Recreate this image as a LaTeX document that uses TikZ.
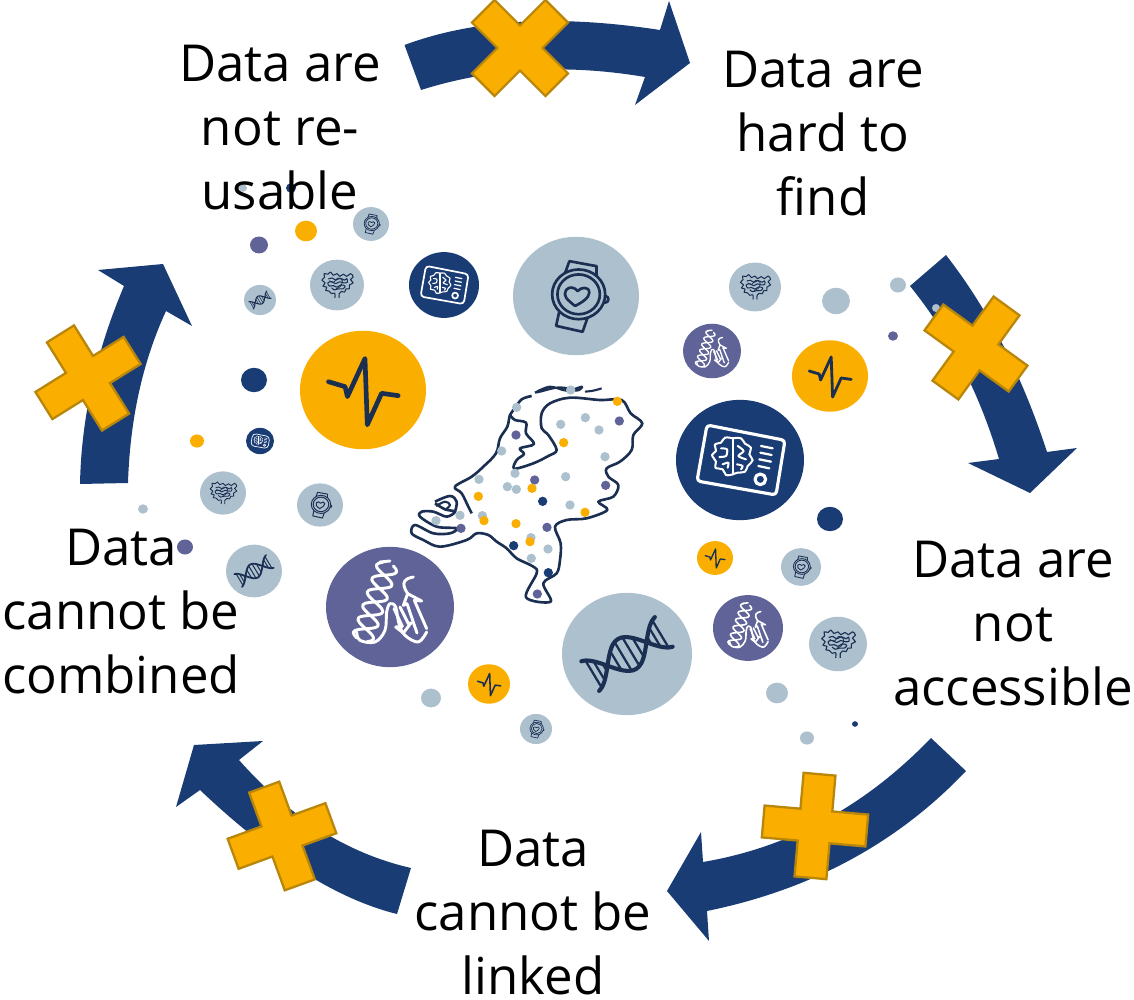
\documentclass[tikz,border=0pt]{standalone}
\usepackage{fontspec}
\setmainfont[Ligatures=NoCommon]{Open Sans}
\usepackage{tikz}
\definecolor{navy}{HTML}{1A3C75}
\definecolor{ink}{HTML}{1B2F52}
\definecolor{bgrey}{HTML}{ADC0CE}
\definecolor{bpurple}{HTML}{5F6397}
\definecolor{byellow}{HTML}{F9AE00}
\definecolor{bedge}{HTML}{B8860B}

\newcommand{\xmark}[3]{\draw[xshape,shift={(#1,#2)},rotate=#3] (-52,-16)--(-16,-16)--(-16,-52)--(16,-52)--(16,-16)--(52,-16)--(52,16)--(16,16)--(16,52)--(-16,52)--(-16,16)--(-52,16)--cycle;}
\newcommand{\pulsebub}[3]{
	\fill[byellow] (#1,#2) circle[x radius=#3,y radius=.94*#3];
	\begin{scope}[shift={(#1,#2)},scale=#3/190,shift={(-519,-660)}]
	\draw[ink,line width=#3*.042pt,line cap=round,line join=round] (415,635)--(465,650)--(472,680)--(525,565)--(532,765)--(575,670)--(625,677);
	\end{scope}
}
\newcommand{\watchbub}[3]{
	\fill[bgrey] (#1,#2) circle[x radius=#3,y radius=.94*#3];
	\begin{scope}[shift={(#1,#2)},scale=#3/190,shift={(-200,-185)},ink,line width=#3*.024pt,line join=round]
	\draw (160,135)--(180,80)--(262,95)--(262,135);
	\draw (150,230)--(140,275)--(220,293)--(240,235);
	\draw (288,195) circle (10);
	\draw[fill=bgrey] (208,180) circle[x radius=80,y radius=75];
	\draw (208,180) circle[x radius=64,y radius=60];
	\draw (197,215) .. controls (172,195) and (160,185) .. (170,167) .. controls (180,155) and (195,158) .. (205,170) .. controls (215,158) and (240,155) .. (240,175) .. controls (240,190) and (218,205) .. cycle;
	\end{scope}
}
\newcommand{\dnabub}[3]{
	\fill[bgrey] (#1,#2) circle[x radius=#3,y radius=.94*#3];
	\begin{scope}[shift={(#1,#2)},scale=#3,rotate=31,ink]
	\draw[line width=#3*.036pt,line cap=round] plot[smooth,domain=-.66:.66,samples=25] (\x,{.27*cos(180*\x/.7)});
	\draw[line width=#3*.036pt,line cap=round] plot[smooth,domain=-.66:.66,samples=25] (\x,{-.27*cos(180*\x/.7)});
	\foreach \t in {-.6,-.5,-.4,-.2,-.07,.07,.2,.4,.5,.6}
		\draw[line width=#3*.02pt] (\t,{.27*cos(180*\t/.7)}) -- (\t,{-.27*cos(180*\t/.7)});
	\end{scope}
}
\newcommand{\gutbub}[3]{
	\fill[bgrey] (#1,#2) circle[x radius=#3,y radius=.94*#3];
	\begin{scope}[shift={(#1,#2)},scale=#3,ink,line width=#3*.022pt,line join=round]
	\draw plot[smooth,tension=.7] coordinates {(-.08,.48)(-.08,.3)(-.2,.32)(-.3,.22)(-.42,.2)(-.38,.08)(-.52,.04)(-.44,-.08)(-.56,-.18)(-.46,-.28)(-.48,-.42)(-.34,-.4)(-.24,-.48)(-.14,-.36)(0,-.42)(.1,-.32)(.24,-.4)(.36,-.32)(.5,-.42)(.6,-.3)(.5,-.2)(.6,-.08)(.46,0)(.46,.14)(.34,.14)(.28,.26)(.16,.24)(.08,.32)(.08,.48)};
	\draw plot[smooth,tension=.7] coordinates {(-.32,-.22)(-.18,-.26)(-.04,-.18)(.12,-.25)(.28,-.18)(.36,-.24)(.38,-.1)(.24,-.08)(.1,-.12)(-.05,-.05)(-.2,-.12)(-.34,-.08)(-.28,.04)(-.14,.02)(0,.08)(.14,0)(.3,.04)(.22,.14)(.06,.14)(-.1,.18)(-.2,.1)};
	\draw[line width=#3*.016pt] plot[smooth,tension=.7] coordinates {(-.28,-.16)(-.12,-.1)(.02,-.26)(.2,-.16)(.12,.06)(-.04,.14)};
	\end{scope}
}
\newcommand{\brainbub}[3]{
	\fill[navy] (#1,#2) circle[x radius=#3,y radius=.94*#3];
	\begin{scope}[shift={(#1,#2)},scale=#3/192,shift={(-217,-627)},white,line width=#3*.028pt,line join=round,line cap=round]
	\draw[rounded corners=2] (118,522)--(352,568)--(325,732)--(88,690)--cycle;
	\draw[line width=#3*.02pt] (280,585)--(315,592) (278,605)--(312,612) (275,625)--(310,632) (272,645)--(305,652);
	\draw (278,685) circle (16);
	\begin{scope}[line width=#3*.018pt]
	\draw plot[smooth,tension=.7] coordinates {(195,562)(172,560)(160,575)(142,580)(145,600)(133,612)(145,632)(143,650)(165,655)(175,672)(195,670)};
	\draw plot[smooth,tension=.7] coordinates {(195,562)(220,562)(232,578)(250,590)(245,610)(255,628)(240,645)(232,662)(210,665)(195,670)};
	\draw (195,562)--(195,670);
	\draw plot[smooth] coordinates {(160,592)(178,595)(175,615)(155,618)};
	\draw plot[smooth] coordinates {(165,640)(182,635)(180,650)};
	\draw plot[smooth] coordinates {(210,585)(228,600)(212,615)(235,625)};
	\draw plot[smooth] coordinates {(208,640)(225,645)(220,655)};
	\end{scope}
	\end{scope}
}
\newcommand{\protbub}[3]{
	\fill[bpurple] (#1,#2) circle[x radius=#3,y radius=.94*#3];
	\begin{scope}[shift={(#1,#2)},scale=#3/192,shift={(-195,-190)},white,line width=#3*.026pt,line join=round,line cap=round]
	\begin{scope}[shift={(150,175)},rotate=-109]
	\draw plot[smooth,domain=-120:120,samples=37] (\x,{32*sin(\x/85*360)});
	\draw plot[smooth,domain=-120:120,samples=37] (\x,{-32*sin(\x/85*360)});
	\end{scope}
	\draw (165,55)--(195,52);
	\draw plot[smooth,tension=.6] coordinates {(95,265)(105,290)(150,295)(180,260)(185,205)(195,180)(212,190)(222,240)(240,275)(280,295)(305,265)};
	\draw (207,195)--(232,248) (225,190)--(250,240);
	\draw (212,250)--(235,268)--(258,238)--(250,240) (212,250)--(232,248);
	\draw (265,100) .. controls (240,105) and (225,115) .. (248,150);
	\draw (248,150)--(290,172)--(268,170)--(305,255) (248,150)--(235,185)--(246,180)--(276,268);
	\end{scope}
}

\begin{document}
\begin{tikzpicture}[
	x=0.02cm, y=-0.02cm,
	textbox/.style={font=\fontsize{29}{36.4}\selectfont, align=center, text=black, inner sep=0},
	xshape/.style={fill=byellow, draw=bedge, line width=1.3pt, line join=miter},
	blockarrow/.style={fill=navy, draw=none}
]
\useasboundingbox (0,0) rectangle (1134,1000);

\foreach \dx/\dy/\dr in {243/188/4,836/301/14,898/285/8,777/693/11,807/738/7,143/509/5,431/698/10}
	\fill[bgrey] (\dx,\dy) circle[x radius=\dr,y radius=.94*\dr];
\foreach \dx/\dy/\dr in {291/188/5,254/380/13,830/519/13,855/724/3}
	\fill[navy] (\dx,\dy) circle[x radius=\dr,y radius=.94*\dr];
\foreach \dx/\dy/\dr in {259/245/9,185/547/8,893/336/5}
	\fill[bpurple] (\dx,\dy) circle[x radius=\dr,y radius=.94*\dr];
\foreach \dx/\dy/\dr in {306/231/11,197/441/7}
	\fill[byellow] (\dx,\dy) circle[x radius=\dr,y radius=.94*\dr];

\watchbub{576}{296}{63}
\watchbub{371}{224}{18}
\watchbub{320}{505}{23}
\watchbub{801}{567}{20}
\watchbub{536}{729}{16}
\pulsebub{363}{390}{63}
\pulsebub{830}{376}{38}
\pulsebub{715}{558}{18}
\pulsebub{489}{684}{21}
\brainbub{740}{460}{64}
\brainbub{444}{285}{35}
\brainbub{260}{441}{14}
\gutbub{337}{285}{27}
\gutbub{223}{493}{23}
\gutbub{755}{287}{26}
\gutbub{838}{644}{29}
\dnabub{627}{654}{65}
\dnabub{254}{571}{28}
\dnabub{260}{300}{16}
\protbub{390}{607}{64}
\protbub{712}{351}{29}
\protbub{748}{628}{35}

\begin{scope}[shift={(400,370)},scale=1/3]
\draw[ink,line width=1.5pt,line join=round] plot[smooth,tension=.6] coordinates {(395,78)(365,88)(345,115)(330,135)(322,170)(300,205)(288,250)(250,290)(215,320)(165,350)(185,370)(205,410)(215,430)};
\draw[ink,line width=1.5pt,line join=round] plot[smooth,tension=.55] coordinates {(330,135)(345,150)(378,158)(378,190)(402,222)(360,235)(372,252)(350,270)(343,296)(400,280)(445,258)(470,240)(445,195)(425,175)(425,130)(450,100)(510,83)(600,90)(665,90)(692,130)(727,160)(700,195)(695,240)(660,275)(620,295)(625,320)(655,345)(640,380)(595,395)(622,420)(560,445)(500,450)(465,470)(482,520)(480,570)(470,610)(430,640)(452,695)(378,682)(410,610)(400,590)(350,565)(320,535)(290,515)(265,495)(230,490)(200,510)(120,530)(70,510)(35,490)(45,465)(100,490)(150,490)(170,475)(110,470)(60,440)(65,425)(100,425)(140,440)(165,425)(135,418)(105,400)};
\draw[ink,line width=1.5pt] plot[smooth,tension=.6] coordinates {(105,395)(150,378)(170,395)(165,425)};
\draw[ink,line width=1.2pt] plot[smooth,tension=.6] coordinates {(108,408)(135,395)(150,405)(135,420)};
\draw[ink,line width=1.2pt] plot[smooth,tension=.6] coordinates {(405,68)(450,50)(500,62)(545,50)(530,62)(480,52)(420,65)(405,68)};
\draw[ink,line width=1.2pt] plot[smooth,tension=.6] coordinates {(555,65)(580,62)(605,55)};
\foreach \dx/\dy in {512/60,350/112,482/163,556/143,597/180,305/243,615/260,345/310,497/320,237/328,322/350,349/358,510/405,180/436,247/437,108/452,393/503,444/537,394/565}
	\fill[bgrey] (\dx,\dy) circle (14);
\foreach \dx/\dy in {658/153,348/195,404/330,617/346,183/475,441/472,412/672}
	\fill[bpurple] (\dx,\dy) circle (14);
\foreach \dx/\dy in {652/94,491/218,396/355,235/379,555/427,252/452,348/461,390/515}
	\fill[byellow] (\dx,\dy) circle (14);
\foreach \dx/\dy in {428/394,341/527,445/608}
	\fill[navy] (\dx,\dy) circle (14);
\end{scope}

\fill[blockarrow] (404.5,45) .. controls (473.5,19.3) and (558.7,14.3) .. (660,30) -- (669,1) -- (690,63) -- (635,105) -- (645,77) .. controls (566.3,63.7) and (491.7,67.7) .. (421,90) -- cycle;
\fill[blockarrow] (946,255) .. controls (988.3,309.3) and (1022,375) .. (1047,452) -- (1077,448) -- (1030,493) -- (968,463) -- (999,459) .. controls (979.3,392.7) and (949.7,335) .. (910,286) -- cycle;
\fill[blockarrow] (931,738) .. controls (865.7,806) and (789.7,847.3) .. (703,862) -- (701,832) -- (667,891) -- (709,941) -- (707,911) .. controls (811.3,889.7) and (897.7,843) .. (966,771) -- cycle;
\fill[blockarrow] (411,868) .. controls (347,853.3) and (289.7,817.3) .. (239,760) -- (263,741) -- (194,745) -- (176,807) -- (200,790) .. controls (271.7,858) and (337.3,899.3) .. (397,914) -- cycle;
\fill[blockarrow] (128,483) .. controls (130,419) and (142.7,361.7) .. (166,311) -- (192,326) -- (163,264) -- (98,270) -- (124,286) .. controls (96,352) and (81.3,418) .. (80,484) -- cycle;

\fill[bgrey] (936,308) circle (4);

\xmark{520}{48}{45}
\xmark{976}{348}{-36}
\xmark{815}{826}{-5}
\xmark{282}{836}{20}
\xmark{88}{378}{32}

\node[textbox] (reuse) at (280,128) {Data are\\not re-\\usable};
\node[textbox] (find) at (823,134) {Data are\\hard to\\find};
\node[textbox] (access) at (1013,624) {Data are\\not\\accessible};
\node[textbox] (link) at (533,913) {Data\\cannot be\\linked};
\node[textbox] (combine) at (121,612) {Data\\cannot be\\combined};
\end{tikzpicture}
\end{document}
